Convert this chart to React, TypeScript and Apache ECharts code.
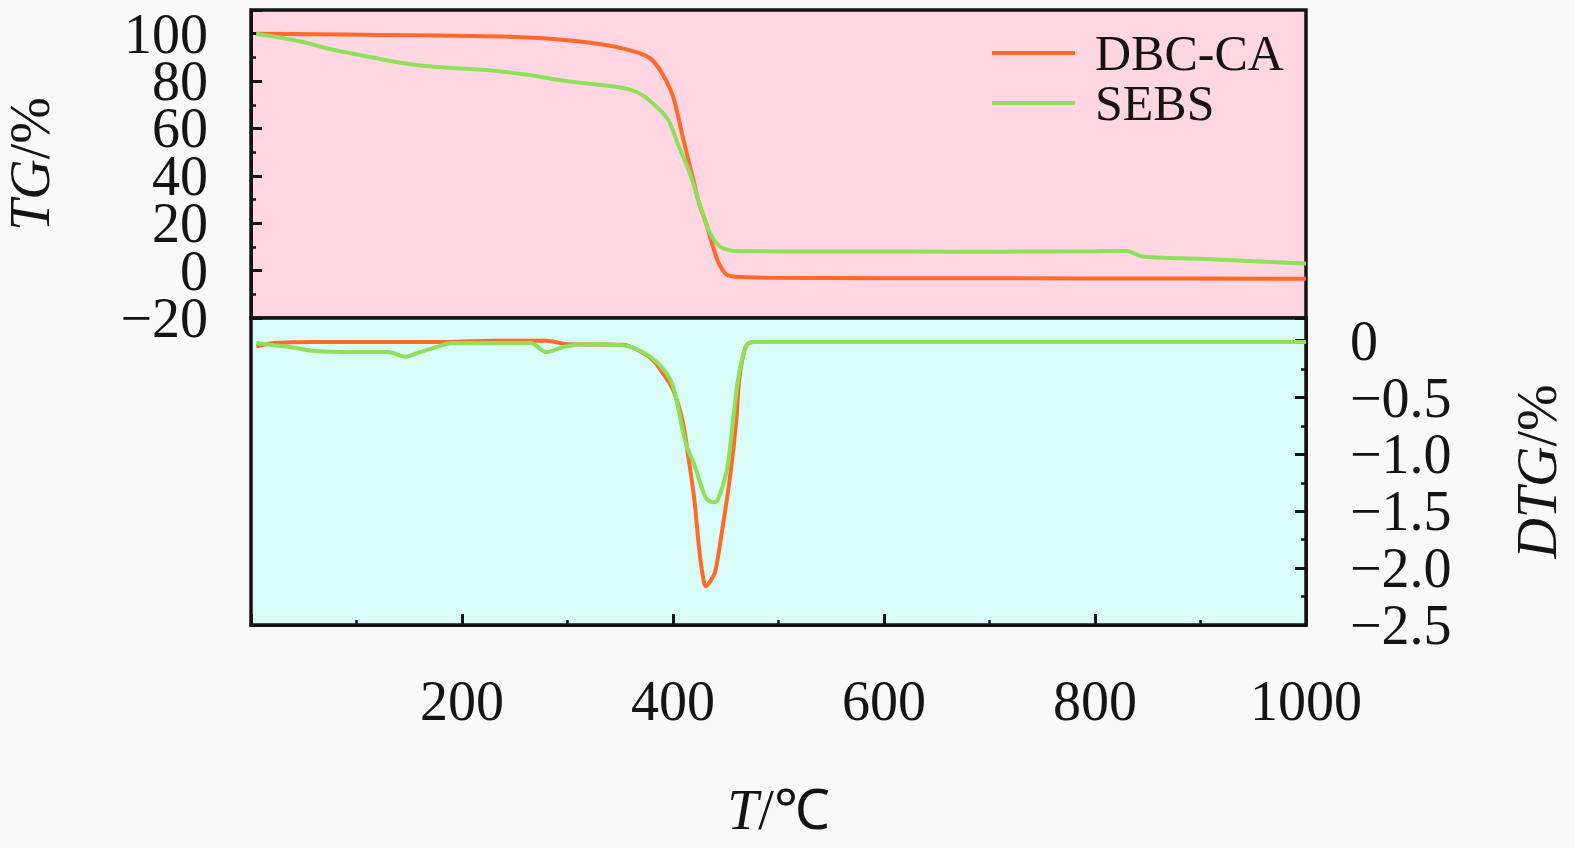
import React, { useEffect, useRef } from "react";
import * as echarts from "echarts";

// ---- data ----
const dbcTgT = [5, 60, 120, 180, 240, 280, 310, 335, 355, 370, 380, 390, 400, 410, 420, 425, 432, 438, 442, 446, 451, 460, 490, 600, 800, 1000];
const dbcTgV = [100, 99.8, 99.5, 99.2, 98.8, 98, 96.8, 95.3, 93.5, 91.5, 89, 83, 73.5, 55, 37, 28, 19, 10, 4.5, 1, -1.7, -2.6, -3, -3.2, -3.3, -3.4];

const sebsTgT = [5, 46, 78, 103, 135, 173, 220, 262, 300, 347, 366, 380, 395, 405, 416, 426, 435, 445, 464, 550, 700, 800, 830, 845, 900, 950, 1000];
const sebsTgV = [100, 96.8, 93.2, 91, 88.3, 86, 84.8, 82.7, 79.9, 77.5, 75.3, 71, 64, 53, 41, 27, 16, 10, 8.2, 8.1, 8, 8.2, 8.3, 6.0, 5.0, 4.0, 3.0];

const dbcDtgT = [5, 22, 60, 120, 186, 230, 280, 300, 353, 370, 382, 390, 400, 409, 414, 420, 425, 429, 431, 435, 440, 447, 454, 460, 463, 469, 476, 550, 700, 850, 1000];
const dbcDtgV = [-0.05, -0.02, -0.01, -0.01, -0.01, 0, 0, -0.03, -0.035, -0.1, -0.18, -0.28, -0.43, -0.7, -0.99, -1.38, -1.85, -2.11, -2.16, -2.12, -2.03, -1.64, -1.2, -0.7, -0.32, -0.05, -0.01, -0.01, -0.01, -0.01, -0.01];

const sebsDtgT = [5, 22, 40, 60, 100, 130, 146, 160, 178, 190, 230, 265, 280, 298, 320, 353, 371, 389, 400, 412, 421, 431, 438, 442, 451, 458, 462, 469, 476, 600, 800, 1000];
const sebsDtgV = [-0.02, -0.04, -0.06, -0.09, -0.1, -0.1, -0.14, -0.1, -0.05, -0.02, -0.02, -0.02, -0.1, -0.05, -0.03, -0.04, -0.1, -0.23, -0.4, -0.9, -1.11, -1.38, -1.42, -1.41, -1.14, -0.61, -0.32, -0.05, -0.01, -0.01, -0.01, -0.01];

const seriesNames = ["DBC-CA", "SEBS"];
const tgTicks = { min: -20, max: 110, interval: 20 };
const dtgTicks = { min: -2.5, max: 0.2, interval: 0.5 };
const tTicks = { min: 0, max: 1000, interval: 200 };

const pair = (xs: number[], ys: number[]) => xs.map((x, i) => [x, ys[i]]);

const FONT = "Liberation Serif";
const INK = "#141414";
const ORANGE = "#FF6A2B";
const GREEN = "#8EE05A";
const FS = 56;

const fmtMinus = (v: number) => String(v).replace("-", "\u2212");

export default function App() {
  const ref = useRef<HTMLDivElement>(null);

  useEffect(() => {
    if (!ref.current) return;
    const chart = echarts.init(ref.current, null, { renderer: "svg" });

    const tickStyle = { color: INK, width: 3 };
    const minorStyle = { color: INK, width: 2.5 };
    const titleStyle = {
      fontFamily: FONT,
      fontSize: FS,
      lineHeight: FS,
      color: INK,
      rich: {
        i: { fontStyle: "italic", fontFamily: FONT, fontSize: FS, lineHeight: FS, color: INK },
      },
    };
    const labelBase = { fontFamily: FONT, fontSize: FS, color: INK };
    const gridBase = {
      left: 251,
      width: 1055,
      containLabel: false,
      outerBoundsMode: "none",
      borderColor: INK,
      borderWidth: 3.5,
    };

    const lineSeries = (name: string, color: string, data: number[][], idx: number) => ({
      name,
      type: "line",
      xAxisIndex: idx,
      yAxisIndex: idx,
      data,
      showSymbol: false,
      symbol: "none",
      smooth: 0.3,
      color,
      lineStyle: { color, width: 4 },
      itemStyle: { color },
      z: name === "SEBS" ? 3 : 2,
    });

    chart.setOption({
      animation: false,
      backgroundColor: "#F9F9F9",
      textStyle: { fontFamily: FONT },
      legend: {
        data: seriesNames,
        orient: "vertical",
        left: 992,
        top: 28,
        padding: 0,
        itemGap: 0,
        itemWidth: 83,
        itemHeight: 4,
        icon: "rect",
        textStyle: {
          fontFamily: FONT,
          fontSize: 50,
          lineHeight: 50,
          color: INK,
          padding: [0, 0, 0, 15],
        },
      },
      grid: [
        { ...gridBase, top: 10, height: 308, show: true, backgroundColor: "#FFD6E1" },
        { ...gridBase, top: 318, height: 307, show: true, backgroundColor: "#D9FDF6" },
        { ...gridBase, top: 10, height: 308, show: false },
      ],
      xAxis: [
        {
          gridIndex: 0,
          type: "value",
          min: tTicks.min,
          max: tTicks.max,
          interval: tTicks.interval,
          axisLine: { show: false, onZero: false },
          axisTick: { show: false },
          axisLabel: { show: false },
          splitLine: { show: false },
        },
        {
          gridIndex: 1,
          type: "value",
          position: "bottom",
          min: tTicks.min,
          max: tTicks.max,
          interval: tTicks.interval,
          name: "{i|T}/℃",
          nameLocation: "middle",
          nameGap: 157,
          nameTextStyle: titleStyle,
          axisLine: { show: true, onZero: false, lineStyle: { color: INK, width: 3 } },
          axisTick: { show: true, inside: true, length: 11, lineStyle: tickStyle },
          minorTick: { show: true, splitNumber: 2, length: 5, lineStyle: minorStyle },
          axisLabel: {
            ...labelBase,
            show: true,
            margin: 48,
            showMinLabel: false,
            showMaxLabel: true,
            formatter: (v: number) => String(v),
          },
          splitLine: { show: false },
        },
        {
          gridIndex: 2,
          type: "value",
          min: tTicks.min,
          max: tTicks.max,
          show: false,
        },
      ],
      yAxis: [
        {
          gridIndex: 0,
          type: "value",
          position: "left",
          min: tgTicks.min,
          max: tgTicks.max,
          interval: tgTicks.interval,
          name: "{i|TG}/%",
          nameLocation: "middle",
          nameRotate: 90,
          nameGap: 193,
          nameTextStyle: titleStyle,
          axisLine: { show: true, onZero: false, lineStyle: { color: INK, width: 3 } },
          axisTick: { show: true, inside: true, length: 11, lineStyle: tickStyle },
          minorTick: { show: true, splitNumber: 2, length: 5, lineStyle: minorStyle },
          axisLabel: {
            ...labelBase,
            margin: 43,
            showMinLabel: false,
            showMaxLabel: false,
            formatter: fmtMinus,
          },
          splitLine: { show: false },
        },
        {
          gridIndex: 1,
          type: "value",
          position: "right",
          min: dtgTicks.min,
          max: dtgTicks.max,
          interval: dtgTicks.interval,
          name: "{i|DTG}/%",
          nameLocation: "middle",
          nameRotate: 90,
          nameGap: 203,
          nameTextStyle: titleStyle,
          axisLine: { show: true, onZero: false, lineStyle: { color: INK, width: 3 } },
          axisTick: { show: true, inside: true, length: 11, lineStyle: tickStyle },
          minorTick: { show: true, splitNumber: 2, length: 5, lineStyle: minorStyle },
          axisLabel: {
            ...labelBase,
            margin: 44,
            showMinLabel: true,
            showMaxLabel: false,
            formatter: (v: number) =>
              Math.abs(v) < 1e-9 ? "0" : v.toFixed(1).replace("-", "\u2212"),
          },
          splitLine: { show: false },
        },
        {
          // carries only the bottom "−20" label of the TG scale
          gridIndex: 2,
          type: "value",
          position: "left",
          min: tgTicks.min,
          max: tgTicks.max,
          interval: tgTicks.interval,
          axisLine: { show: false, onZero: false },
          axisTick: { show: false },
          splitLine: { show: false },
          axisLabel: {
            ...labelBase,
            margin: 43,
            showMinLabel: true,
            showMaxLabel: false,
            formatter: (v: number) => (v === tgTicks.min ? fmtMinus(v) : ""),
          },
        },
      ],
      series: [
        lineSeries(seriesNames[0], ORANGE, pair(dbcTgT, dbcTgV), 0),
        lineSeries(seriesNames[1], GREEN, pair(sebsTgT, sebsTgV), 0),
        lineSeries(seriesNames[0], ORANGE, pair(dbcDtgT, dbcDtgV), 1),
        lineSeries(seriesNames[1], GREEN, pair(sebsDtgT, sebsDtgV), 1),
      ],
    });

    return () => chart.dispose();
  }, []);

  return (
    <div
      ref={ref}
      style={{ position: "fixed", left: 0, top: 0, width: 1575, height: 848, background: "#F9F9F9" }}
    />
  );
}
